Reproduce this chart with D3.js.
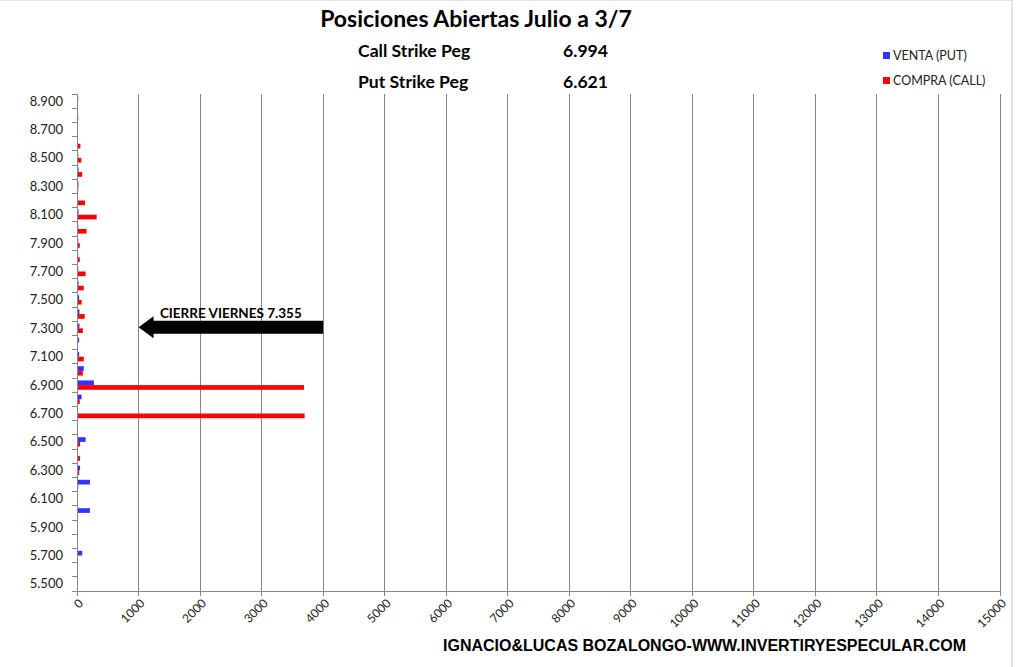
<!DOCTYPE html>
<html>
<head>
<meta charset="utf-8">
<script src="https://cdn.jsdelivr.net/npm/d3@7/dist/d3.min.js"></script>
<style>
  html, body { margin: 0; padding: 0; background: #fff; }
  svg { display: block; }
</style>
</head>
<body>
<svg id="chart" width="1023" height="667"></svg>
<script>
// ---- Data ----
const strikes = ["5.500","5.600","5.700","5.800","5.900","6.000","6.100","6.200","6.300","6.400",
                 "6.500","6.600","6.700","6.800","6.900","7.000","7.100","7.200","7.300","7.400",
                 "7.500","7.600","7.700","7.800","7.900","8.000","8.100","8.200","8.300","8.400",
                 "8.500","8.600","8.700","8.800","8.900"];
const ventaPut = [10,10,85,10,15,210,15,210,50,10,
                  140,10,15,75,275,110,35,35,40,40,
                  35,25,20,20,20,20,25,0,25,25,
                  20,0,0,0,20];
const compraCall = [0,0,0,0,0,15,0,20,35,50,
                    50,10,3700,45,3690,95,110,10,95,125,
                    75,110,140,45,45,155,320,130,20,85,
                    70,55,0,20,0];
const xTicks = [0,1000,2000,3000,4000,5000,6000,7000,8000,9000,10000,11000,12000,13000,14000,15000];
const seriesNames = ["VENTA (PUT)", "COMPRA (CALL)"];
const seriesColors = ["#3333ff", "#ff0000"];
const titleText = "Posiciones Abiertas Julio a 3/7";
const pegLabels = ["Call Strike Peg", "Put Strike Peg"];
const pegValues = ["6.994", "6.621"];
const closeLabel = "CIERRE VIERNES 7.355";
const closeStrike = "7.300";
const arrowFrom = 4000, arrowTo = 1000;
const footer = "IGNACIO&LUCAS BOZALONGO-WWW.INVERTIRYESPECULAR.COM";

// ---- Layout ----
const svg = d3.select("#chart");
const L = 77, R = 1000, T = 94, B = 591;
const gridColor = "#868686";
const font = "Lato, 'Open Sans', sans-serif";

svg.append("rect").attr("x", -1).attr("y", 0).attr("width", 1013).attr("height", 700)
  .attr("fill", "#fff").attr("stroke", "#c8c8c8");

const x = d3.scaleLinear().domain([0, 15000]).range([L, R]);
const yDomain = strikes.slice().reverse();
const y = d3.scaleBand().domain(yDomain).range([T, B]).paddingInner(0.34).paddingOuter(0.17);
const ySub = d3.scaleBand().domain([0, 1]).range([0, y.bandwidth()]);

// gridlines
svg.append("g").selectAll("line").data(xTicks.filter(d => d > 0)).join("line")
  .attr("x1", d => x(d)).attr("x2", d => x(d)).attr("y1", T).attr("y2", B)
  .attr("stroke", gridColor).attr("stroke-width", 1).attr("shape-rendering", "crispEdges");

// bars
const rows = strikes.map((s, i) => ({ s, v: [ventaPut[i], compraCall[i]] }));
const gBars = svg.append("g");
[0, 1].forEach(k => {
  gBars.selectAll(null).data(rows.filter(r => r.v[k] > 0)).join("rect")
    .attr("x", x(0))
    .attr("y", d => y(d.s) + ySub(k))
    .attr("width", d => x(d.v[k]) - x(0))
    .attr("height", ySub.bandwidth())
    .attr("fill", seriesColors[k]);
});

// x axis
const xAxis = svg.append("g").attr("transform", `translate(0,${B})`);
xAxis.append("line").attr("x1", L).attr("x2", R).attr("stroke", gridColor).attr("shape-rendering", "crispEdges");
xAxis.selectAll("line.t").data(xTicks).join("line").attr("class", "t")
  .attr("x1", d => x(d)).attr("x2", d => x(d)).attr("y1", 0).attr("y2", 5)
  .attr("stroke", gridColor).attr("shape-rendering", "crispEdges");
xAxis.selectAll("text").data(xTicks).join("text")
  .attr("transform", d => `translate(${x(d) + 4},${10}) rotate(-45)`)
  .attr("text-anchor", "end").attr("dy", "0.35em")
  .attr("font-family", font).attr("font-size", 12).attr("fill", "#222")
  .text(d => d);

// y axis
const yAxis = svg.append("g");
yAxis.append("line").attr("x1", L).attr("x2", L).attr("y1", T).attr("y2", B)
  .attr("stroke", gridColor).attr("shape-rendering", "crispEdges");
const step = y.step();
const boundaries = yDomain.map(s => y(s) - y.paddingInner() * step / 2).concat([B]);
yAxis.selectAll("line.t").data(boundaries).join("line").attr("class", "t")
  .attr("x1", L - 5).attr("x2", L).attr("y1", d => d).attr("y2", d => d)
  .attr("stroke", gridColor).attr("shape-rendering", "crispEdges");
yAxis.selectAll("text").data(yDomain.filter((s, i) => i % 2 === 0)).join("text")
  .attr("x", L - 14).attr("y", d => y(d) + y.bandwidth() / 2)
  .attr("dy", "0.35em").attr("text-anchor", "end")
  .attr("font-family", font).attr("font-size", 13).attr("fill", "#222")
  .text(d => d);

// arrow annotation
const ay = y(closeStrike) + y.bandwidth() / 2 - 1;
const ax1 = x(arrowFrom), ax0 = x(arrowTo);
const bodyH = 13, headH = 22, headW = 15;
svg.append("path")
  .attr("d", `M${ax1},${ay - bodyH/2} L${ax0 + headW},${ay - bodyH/2} L${ax0 + headW},${ay - headH/2}
              L${ax0},${ay} L${ax0 + headW},${ay + headH/2} L${ax0 + headW},${ay + bodyH/2}
              L${ax1},${ay + bodyH/2} Z`)
  .attr("fill", "#000");
svg.append("text").attr("x", (ax0 + ax1) / 2).attr("y", ay - 9)
  .attr("text-anchor", "middle").attr("font-family", font).attr("font-weight", "bold")
  .attr("font-size", 13.5).attr("fill", "#000").text(closeLabel);

// title & pegs
svg.append("text").attr("x", 476).attr("y", 27).attr("text-anchor", "middle")
  .attr("font-family", font).attr("font-weight", "bold").attr("font-size", 23).attr("fill", "#000")
  .text(titleText);
pegLabels.forEach((t, i) => {
  svg.append("text").attr("x", 358).attr("y", 57 + i * 31)
    .attr("font-family", font).attr("font-weight", "bold").attr("font-size", 17.6).attr("fill", "#000").text(t);
  svg.append("text").attr("x", 563).attr("y", 57 + i * 31)
    .attr("font-family", font).attr("font-weight", "bold").attr("font-size", 17.6).attr("fill", "#000").text(pegValues[i]);
});

// legend
seriesNames.forEach((n, i) => {
  svg.append("rect").attr("x", 883).attr("y", 52 + i * 25).attr("width", 7).attr("height", 7)
    .attr("fill", seriesColors[i]);
  svg.append("text").attr("x", 893).attr("y", 60 + i * 25)
    .attr("font-family", font).attr("font-size", 12.5).attr("fill", "#222").text(n);
});

// footer
svg.append("text").attr("x", 443).attr("y", 651)
  .attr("font-family", "'Liberation Sans', Arial, sans-serif").attr("font-weight", "bold")
  .attr("font-size", 16).attr("fill", "#000")
  .attr("textLength", 523).attr("lengthAdjust", "spacingAndGlyphs")
  .text(footer);
</script>
</body>
</html>
